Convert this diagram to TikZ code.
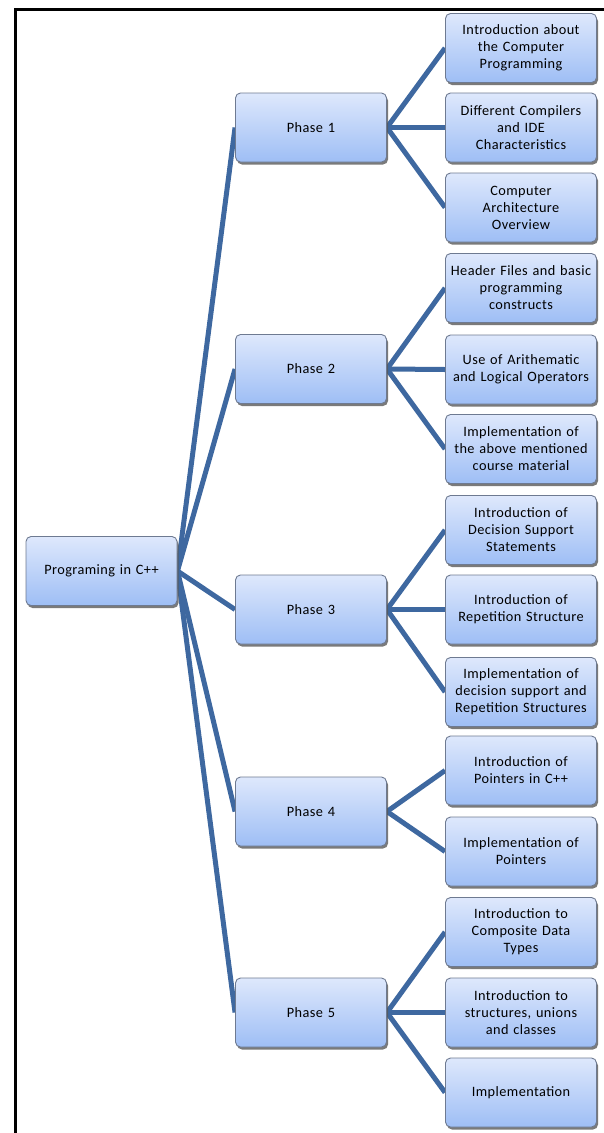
\documentclass[tikz,border=0pt]{standalone}
\usepackage{fontspec}
\setmainfont{Carlito}[LetterSpace=3]
\usetikzlibrary{shadows,backgrounds}
\definecolor{linkblue}{RGB}{62,104,160}
\definecolor{boxtop}{RGB}{222,232,252}
\definecolor{boxbot}{RGB}{158,190,245}
\definecolor{boxedge}{RGB}{110,122,145}
\tikzset{
  box/.style={draw=boxedge, line width=0.9pt, rounded corners=5pt,
    top color=boxtop, bottom color=boxbot,
    minimum width=151pt, minimum height=69pt, text width=150pt, align=center,
    inner sep=0pt, font=\fontsize{14.3}{17}\selectfont,
    drop shadow={shadow xshift=1.5pt, shadow yshift=-2.5pt, fill=black!65, opacity=0.8}},
  link/.style={draw=linkblue, line width=5pt},
  frameline/.style={draw=black, line width=3pt}
}
\begin{document}
\begin{tikzpicture}[x=1pt,y=-1pt]
\useasboundingbox (0,0) rectangle (604,1133);
\draw[frameline] (15,1133) -- (15,9) -- (604,9);
\node[box] (root) at (101.5,571) {Programing in C++};
\node[box] (p1) at (311,127.5) {Phase 1};
\node[box] (p2) at (311,369) {Phase 2};
\node[box] (p3) at (311,609.5) {Phase 3};
\node[box] (p4) at (311,811.5) {Phase 4};
\node[box] (p5) at (311,1012.5) {Phase 5};
\node[box] (a1) at (521,48) {Introduction about\\the Computer\\Programming};
\node[box] (a2) at (521,127.5) {Different Compilers\\and IDE\\Characteristics};
\node[box] (a3) at (521,207.5) {Computer\\Architecture\\Overview};
\node[box] (b1) at (521,288) {Header Files and basic\\programming\\constructs};
\node[box] (b2) at (521,369.5) {Use of Arithematic\\and Logical Operators};
\node[box] (b3) at (521,449) {Implementation of\\the above mentioned\\course material};
\node[box] (c1) at (521,530) {Introduction of\\Decision Support\\Statements};
\node[box] (c2) at (521,609.5) {Introduction of\\Repetition Structure};
\node[box] (c3) at (521,692) {Implementation of\\decision support and\\Repetition Structures};
\node[box] (d1) at (521,770.5) {Introduction of\\Pointers in C++};
\node[box] (d2) at (521,851.5) {Implementation of\\Pointers};
\node[box] (e1) at (521,932) {Introduction to\\Composite Data\\Types};
\node[box] (e2) at (521,1012.5) {Introduction to\\structures, unions\\and classes};
\node[box] (e3) at (521,1092.5) {Implementation};
\begin{scope}[on background layer]
\foreach \p in {p1,p2,p3,p4,p5} \draw[link] (root.east) -- (\p.west);
\foreach \l in {a1,a2,a3} \draw[link] (p1.east) -- (\l.west);
\foreach \l in {b1,b2,b3} \draw[link] (p2.east) -- (\l.west);
\foreach \l in {c1,c2,c3} \draw[link] (p3.east) -- (\l.west);
\foreach \l in {d1,d2} \draw[link] (p4.east) -- (\l.west);
\foreach \l in {e1,e2,e3} \draw[link] (p5.east) -- (\l.west);
\end{scope}
\end{tikzpicture}
\end{document}
